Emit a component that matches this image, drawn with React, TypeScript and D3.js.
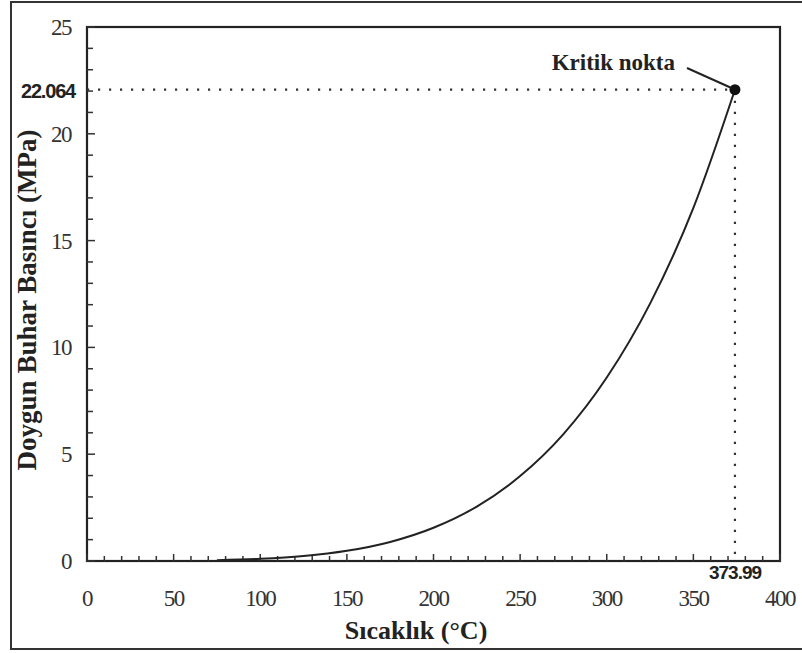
import React from "react";
import * as d3 from "d3";

// Saturated vapour pressure of water versus temperature
const temperatures = [75, 100, 125, 150, 175, 200, 225, 250, 275, 300, 325, 350, 373.99];
const pressures = [0.039, 0.101, 0.232, 0.476, 0.892, 1.555, 2.548, 3.976, 5.942, 8.588, 12.05, 16.53, 22.064];

const xTicks = [0, 50, 100, 150, 200, 250, 300, 350, 400];
const yTicks = [0, 5, 10, 15, 20, 25];

const criticalT = 373.99;
const criticalP = 22.064;

const W = 802;
const H = 653;
const M = { left: 87, right: 780, top: 27, bottom: 561 };

export default function App() {
  const x = d3.scaleLinear().domain([0, 400]).range([M.left, M.right]);
  const y = d3.scaleLinear().domain([0, 25]).range([M.bottom, M.top]);

  const line = d3
    .line<number>()
    .x((_, i) => x(temperatures[i]))
    .y((p) => y(p))
    .curve(d3.curveMonotoneX);

  const minorX = d3.range(0, 401, 10);
  const minorY = d3.range(0, 26, 1);

  const serif = "'Liberation Serif', 'Times New Roman', serif";
  const sans = "'Liberation Sans', Arial, sans-serif";

  const cx = x(criticalT);
  const cy = y(criticalP);

  return (
    <svg
      width={W}
      height={H}
      style={{ position: "absolute", left: 0, top: 0, background: "#fff" }}
    >
      {/* outer frame */}
      <rect x={11} y={2} width={800} height={647} fill="none" stroke="#333" strokeWidth={2} />

      {/* plot box */}
      <rect
        x={M.left}
        y={M.top}
        width={M.right - M.left}
        height={M.bottom - M.top}
        fill="none"
        stroke="#222"
        strokeWidth={2.2}
      />

      {/* x ticks */}
      {minorX.map((t) => (
        <line
          key={"xt" + t}
          x1={x(t)}
          x2={x(t)}
          y1={M.bottom}
          y2={M.bottom - (t % 50 === 0 ? 7 : 5)}
          stroke="#333"
          strokeWidth={1.5}
        />
      ))}
      {xTicks.map((t) => (
        <text
          key={"xl" + t}
          x={x(t)}
          y={606}
          textAnchor="middle"
          fontFamily={serif}
          fontSize={23}
          letterSpacing={-1.5}
          fill="#333"
        >
          {t}
        </text>
      ))}

      {/* y ticks */}
      {minorY.map((t) => (
        <line
          key={"yt" + t}
          x1={M.left}
          x2={M.left + (t % 5 === 0 ? 8 : 6)}
          y1={y(t)}
          y2={y(t)}
          stroke="#333"
          strokeWidth={1.5}
        />
      ))}
      {yTicks.map((t) => (
        <text
          key={"yl" + t}
          x={71}
          y={y(t) + 8}
          textAnchor="end"
          fontFamily={serif}
          fontSize={23}
          letterSpacing={-1.5}
          fill="#333"
        >
          {t}
        </text>
      ))}

      {/* dotted guides to the critical point */}
      <line
        x1={M.left}
        x2={cx}
        y1={cy}
        y2={cy}
        stroke="#333"
        strokeWidth={2.2}
        strokeDasharray="2.2 8.8"
      />
      <line
        x1={cx}
        x2={cx}
        y1={cy}
        y2={M.bottom}
        stroke="#333"
        strokeWidth={2.2}
        strokeDasharray="2.2 8.8"
      />

      {/* pressure curve */}
      <path d={line(pressures) || ""} fill="none" stroke="#222" strokeWidth={2} />

      {/* critical point */}
      <circle cx={cx} cy={cy} r={5.5} fill="#111" />
      <line x1={687} y1={68} x2={cx - 4} y2={cy - 2} stroke="#222" strokeWidth={2} />
      <text x={675} y={70} textAnchor="end" fontFamily={serif} fontWeight="bold" fontSize={23} fill="#222">
        Kritik nokta
      </text>

      <text x={48} y={98} textAnchor="middle" fontFamily={sans} fontWeight="bold" fontSize={20} letterSpacing={-1.2} fill="#222">
        {criticalP.toFixed(3)}
      </text>
      <text x={735} y={579} textAnchor="middle" fontFamily={sans} fontWeight="bold" fontSize={19} letterSpacing={-1} fill="#222">
        {criticalT.toFixed(2)}
      </text>

      {/* axis titles */}
      <text x={416} y={639} textAnchor="middle" fontFamily={serif} fontWeight="bold" fontSize={26} fill="#222">
        Sıcaklık (°C)
      </text>
      <text
        transform={`translate(36, 300) rotate(-90)`}
        textAnchor="middle"
        fontFamily={serif}
        fontWeight="bold"
        fontSize={27}
        fill="#222"
      >
        Doygun Buhar Basıncı (MPa)
      </text>
    </svg>
  );
}
